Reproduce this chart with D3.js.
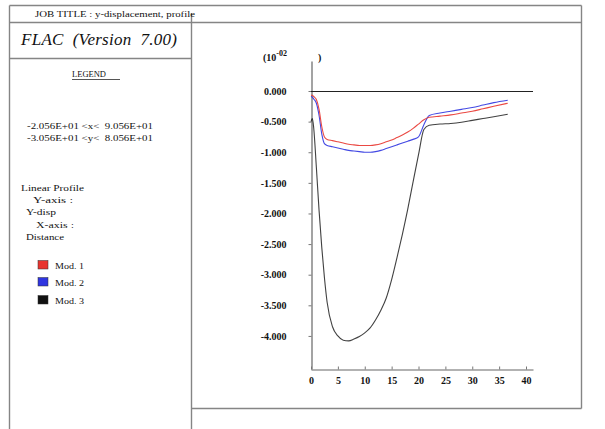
<!DOCTYPE html>
<html>
<head>
<meta charset="utf-8">
<script src="https://cdn.jsdelivr.net/npm/d3@7"></script>
<style>
  html, body { margin: 0; padding: 0; background: #fff; }
  svg { display: block; }
  text { font-family: "Liberation Serif", "DejaVu Serif", serif; fill: #111; }
</style>
</head>
<body>
<svg id="chart" width="605" height="429"></svg>
<script>
// ---- data ----
const distance = [0, 0.25, 0.5, 1, 1.5, 2, 2.5, 3, 4, 5, 6, 7, 8, 9, 10, 11, 12, 13, 14, 15, 16, 17, 18, 19, 20, 21, 22, 24, 26, 28, 30, 32, 34, 36.6];
const mod1 = [-0.07, -0.07, -0.09, -0.14, -0.30, -0.58, -0.75, -0.79, -0.81, -0.83, -0.85, -0.87, -0.88, -0.89, -0.89, -0.89, -0.88, -0.86, -0.83, -0.80, -0.76, -0.72, -0.67, -0.61, -0.54, -0.47, -0.43, -0.41, -0.39, -0.36, -0.33, -0.29, -0.25, -0.20];
const mod2 = [-0.09, -0.10, -0.13, -0.20, -0.40, -0.70, -0.86, -0.89, -0.91, -0.93, -0.95, -0.97, -0.98, -0.99, -1.00, -1.00, -0.99, -0.97, -0.94, -0.91, -0.88, -0.85, -0.82, -0.79, -0.75, -0.55, -0.40, -0.36, -0.33, -0.30, -0.27, -0.23, -0.19, -0.15];
const mod3 = [-0.50, -0.45, -0.60, -1.25, -1.95, -2.55, -3.05, -3.45, -3.85, -4.00, -4.07, -4.08, -4.05, -4.01, -3.95, -3.87, -3.74, -3.58, -3.38, -3.08, -2.72, -2.34, -1.93, -1.48, -1.04, -0.63, -0.56, -0.54, -0.53, -0.51, -0.48, -0.45, -0.42, -0.38];
const seriesNames = ["Mod. 1", "Mod. 2", "Mod. 3"];
const seriesColors = ["#e8352f", "#2f35e0", "#111111"];
const xTickValues = [0, 5, 10, 15, 20, 25, 30, 35, 40];
const yTickValues = [0, -0.5, -1.0, -1.5, -2.0, -2.5, -3.0, -3.5, -4.0];
const yTickLabels = ["0.000", "-0.500", "-1.000", "-1.500", "-2.000", "-2.500", "-3.000", "-3.500", "-4.000"];

const svg = d3.select("#chart");
const frame = "#858585";

// ---- frame ----
const lines = [
  [9.5, 5.5, 581.5, 5.5],
  [9.5, 22.5, 581.5, 22.5],
  [9.5, 5.5, 9.5, 429],
  [581.5, 5.5, 581.5, 408.5],
  [191.5, 13, 191.5, 429],
  [9.5, 58.5, 191.5, 58.5],
  [191.5, 408.5, 581.5, 408.5]
];
svg.selectAll("line.frame").data(lines).enter().append("line")
  .attr("class", "frame")
  .attr("x1", d => d[0]).attr("y1", d => d[1]).attr("x2", d => d[2]).attr("y2", d => d[3])
  .attr("stroke", frame).attr("stroke-width", 1.4);

// ---- left panel text ----
svg.append("text").attr("x", 35).attr("y", 17).attr("font-size", 8.5)
  .attr("textLength", 160).attr("lengthAdjust", "spacingAndGlyphs")
  .text("JOB TITLE : y-displacement, profile");
svg.append("text").attr("x", 21).attr("y", 45)
  .attr("xml:space", "preserve").style("white-space", "pre")
  .attr("font-size", 17).attr("font-style", "italic").attr("fill", "#222")
  .attr("textLength", 156).attr("lengthAdjust", "spacing")
  .text("FLAC  (Version  7.00)");
svg.append("text").attr("x", 72).attr("y", 77).attr("font-size", 8.5)
  .attr("textLength", 34).attr("lengthAdjust", "spacingAndGlyphs").text("LEGEND");
svg.append("line").attr("x1", 72).attr("x2", 120).attr("y1", 79.5).attr("y2", 79.5)
  .attr("stroke", "#555").attr("stroke-width", 1);

const info = [
  {t: "-2.056E+01 <x<  9.056E+01", x: 27, y: 129, w: 126},
  {t: "-3.056E+01 <y<  8.056E+01", x: 27, y: 141, w: 126},
  {t: "Linear Profile", x: 21, y: 191, w: 63},
  {t: "Y-axis :", x: 33, y: 203, w: 40},
  {t: "Y-disp", x: 26, y: 215, w: 30},
  {t: "X-axis :", x: 36, y: 228, w: 38},
  {t: "Distance", x: 26, y: 240, w: 38}
];
svg.selectAll("text.info").data(info).enter().append("text")
  .attr("class", "info")
  .attr("x", d => d.x).attr("y", d => d.y).attr("font-size", 9)
  .attr("xml:space", "preserve")
  .style("white-space", "pre")
  .attr("textLength", d => d.w).attr("lengthAdjust", "spacingAndGlyphs")
  .text(d => d.t);

const legendY = [265, 282, 300];
seriesNames.forEach((name, i) => {
  svg.append("rect").attr("x", 38).attr("y", legendY[i] - 4.5).attr("width", 10).attr("height", 8.5)
    .attr("fill", seriesColors[i]).attr("stroke", "#333").attr("stroke-width", 0.5);
  svg.append("text").attr("x", 55).attr("y", legendY[i] + 3.5).attr("font-size", 9)
    .attr("textLength", 29).attr("lengthAdjust", "spacingAndGlyphs").text(name);
});

// ---- plot ----
const x = d3.scaleLinear().domain([0, 41.3]).range([311, 533]);
const y = d3.scaleLinear().domain([-4.54, 0.49]).range([369, 61]);

const yAxis = d3.axisLeft(y).tickValues(yTickValues)
  .tickFormat((d, i) => yTickLabels[i]).tickSize(3).tickPadding(22).tickSizeOuter(0);
const gy = svg.append("g").attr("transform", "translate(311.5,0)").call(yAxis);
const xAxis = d3.axisBottom(x).tickValues(xTickValues)
  .tickFormat(d => String(d)).tickSize(-3).tickPadding(7).tickSizeOuter(0);
const gx = svg.append("g").attr("transform", "translate(0,369.5)").call(xAxis);
[gx, gy].forEach(g => {
  g.select(".domain").attr("stroke", "#666").attr("stroke-width", 1.2);
  g.selectAll(".tick line").attr("stroke", "#777");
  g.selectAll(".tick text").attr("font-size", 10).attr("font-weight", "bold")
    .style("font-family", "'Liberation Serif', serif").attr("fill", "#222");
});

// zero line
svg.append("line").attr("x1", x(0)).attr("x2", x(41.3)).attr("y1", y(0) + 0.5).attr("y2", y(0) + 0.5)
  .attr("stroke", "#222").attr("stroke-width", 1.2);

// unit label
const ul = svg.append("text").attr("x", 263).attr("y", 61).attr("font-size", 10).attr("font-weight", "bold");
ul.append("tspan").text("(10");
ul.append("tspan").attr("dy", -5).attr("font-size", 8).text("-02");
svg.append("text").attr("x", 318).attr("y", 61).attr("font-size", 10).attr("font-weight", "bold").text(")");

const lineGen = d3.line().x((d, i) => x(distance[i])).y(d => y(d)).curve(d3.curveMonotoneX);
[mod3, mod2, mod1].forEach((s, k) => {
  const idx = 2 - k;
  svg.append("path").datum(s).attr("d", lineGen)
    .attr("fill", "none").attr("stroke", seriesColors[idx]).attr("stroke-width", 1.1)
    .attr("stroke-opacity", idx === 2 ? 0.8 : 0.9);
});
</script>
</body>
</html>
